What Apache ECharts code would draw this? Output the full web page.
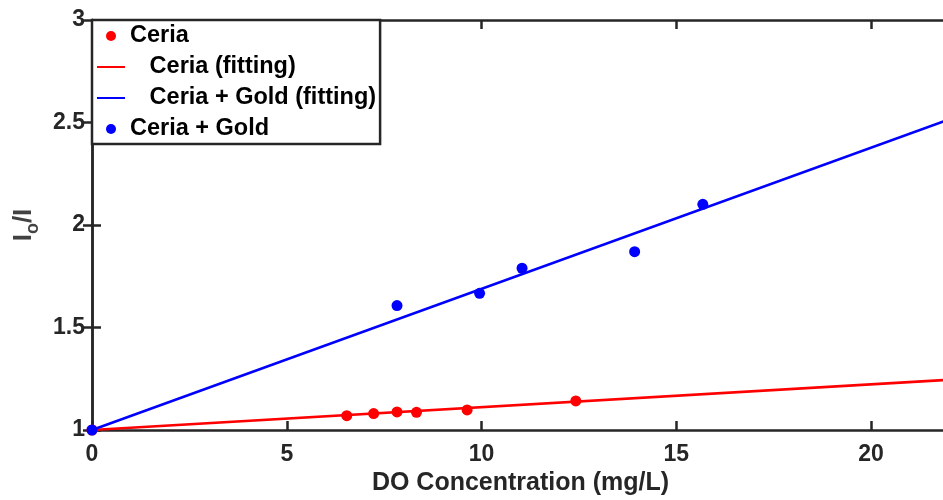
<!DOCTYPE html>
<html>
<head>
<meta charset="utf-8">
<script src="https://cdn.jsdelivr.net/npm/echarts@6/dist/echarts.min.js"></script>
<style>
  html, body { margin: 0; padding: 0; background: #fff; }
  #chart { width: 943px; height: 500px; }
</style>
</head>
<body>
<div id="chart"></div>
<script>
// measured points
const ceriaX = [0, 6.54, 7.23, 7.83, 8.33, 9.63, 12.42]
const ceriaY = [1, 1.070, 1.080, 1.088, 1.086, 1.098, 1.142]
const goldX = [0, 7.83, 9.95, 11.04, 13.93, 15.68]
const goldY = [1, 1.607, 1.667, 1.789, 1.870, 2.101]

// fitted lines (end points)
const fitX = [0, 22]
const ceriaFitY = [1, 1.245]
const goldFitY = [1, 2.515]

const legendNames = ['Ceria', 'Ceria (fitting)', 'Ceria + Gold (fitting)', 'Ceria + Gold']

const FONT = '"Liberation Sans", Arial, Helvetica, sans-serif'
const AXIS_COLOR = '#262626'

const pairs = (xs, ys) => xs.map((x, i) => [x, ys[i]])

const chart = echarts.init(document.getElementById('chart'), null, { renderer: 'canvas' })

const axisLine = { show: true, lineStyle: { color: AXIS_COLOR, width: 2.5 } }
const axisTick = { show: true, inside: true, length: 9, lineStyle: { color: AXIS_COLOR, width: 2.5 } }

// line entries in the legend: hide the symbol dot, keep the stroke
const legendData = legendNames.map(name =>
  name.includes('fitting') ? { name, itemStyle: { opacity: 0 } } : { name }
)

const option = {
  backgroundColor: '#fff',
  animation: false,
  grid: { left: 92, right: -6, top: 20, bottom: 70, outerBoundsMode: 'none' },
  legend: {
    data: legendData,
    orient: 'vertical',
    left: 92,
    top: 20,
    padding: [4, 4, 3, 4],
    itemGap: 7,
    itemWidth: 28,
    itemHeight: 10,
    backgroundColor: '#fff',
    borderColor: AXIS_COLOR,
    borderWidth: 2.5,
    borderRadius: 0,
    selectedMode: false,
    formatter: name => name.includes('fitting') ? '   ' + name : name,
    textStyle: { fontFamily: FONT, fontWeight: 'bold', fontSize: 23.5, color: '#000' }
  },
  xAxis: [
    {
      type: 'value',
      min: 0, max: 22, interval: 5,
      position: 'bottom',
      axisLine, axisTick,
      splitLine: { show: false },
      axisLabel: {
        showMaxLabel: false,
        margin: 13,
        fontFamily: FONT, fontWeight: 'bold', fontSize: 23, color: AXIS_COLOR
      },
      name: 'DO Concentration (mg/L)',
      nameLocation: 'middle',
      nameGap: 38,
      nameTextStyle: { fontFamily: FONT, fontWeight: 'bold', fontSize: 25, color: AXIS_COLOR }
    },
    {
      type: 'value',
      min: 0, max: 22, interval: 5,
      position: 'top',
      axisLine, axisTick,
      splitLine: { show: false },
      axisLabel: { show: false }
    }
  ],
  yAxis: [
    {
      type: 'value',
      min: 1, max: 3, interval: 0.5,
      position: 'left',
      axisLine, axisTick,
      splitLine: { show: false },
      axisLabel: {
        margin: 7,
        fontFamily: FONT, fontWeight: 'bold', fontSize: 23, color: AXIS_COLOR
      },
      name: '{a|I}{b|o}{a|/I}',
      nameLocation: 'middle',
      nameRotate: 90,
      nameGap: 48,
      nameTextStyle: {
        rich: {
          a: { fontFamily: FONT, fontWeight: 'bold', fontSize: 26, color: '#424242', lineHeight: 36, verticalAlign: 'middle' },
          b: { fontFamily: FONT, fontWeight: 'bold', fontSize: 18, color: '#424242', lineHeight: 18, verticalAlign: 'bottom' }
        }
      }
    },
    {
      type: 'value',
      min: 1, max: 3, interval: 0.5,
      position: 'right',
      axisLine, axisTick,
      splitLine: { show: false },
      axisLabel: { show: false }
    }
  ],
  series: [
    {
      name: 'Ceria',
      type: 'scatter',
      data: pairs(ceriaX, ceriaY),
      symbol: 'circle',
      symbolSize: 11,
      itemStyle: { color: '#ff0000', opacity: 1 },
      z: 3
    },
    {
      name: 'Ceria (fitting)',
      type: 'line',
      data: pairs(fitX, ceriaFitY),
      symbol: 'none',
      lineStyle: { color: '#ff0000', width: 2.5 },
      itemStyle: { color: '#ff0000' },
      z: 2
    },
    {
      name: 'Ceria + Gold (fitting)',
      type: 'line',
      data: pairs(fitX, goldFitY),
      symbol: 'none',
      lineStyle: { color: '#0000ff', width: 2.5 },
      itemStyle: { color: '#0000ff' },
      z: 2
    },
    {
      name: 'Ceria + Gold',
      type: 'scatter',
      data: pairs(goldX, goldY),
      symbol: 'circle',
      symbolSize: 11,
      itemStyle: { color: '#0000ff', opacity: 1 },
      z: 4
    }
  ]
}

chart.setOption(option)
</script>
</body>
</html>
